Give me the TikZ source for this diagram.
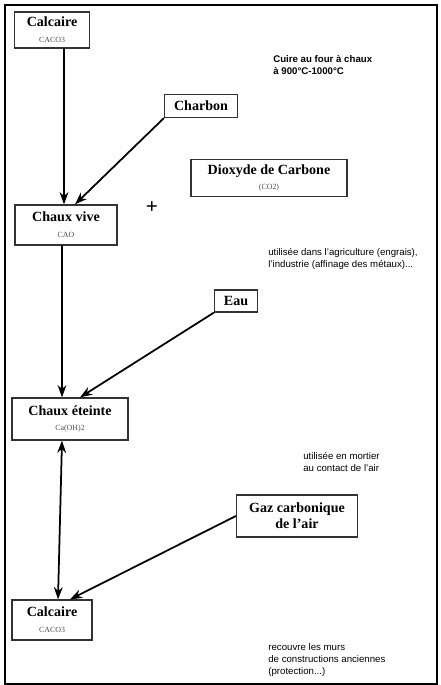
\documentclass[tikz,border=0pt]{standalone}
\usepackage{fontspec}
\setmainfont{Liberation Serif}
\setsansfont{Liberation Sans}
\usetikzlibrary{arrows.meta}

\newcommand{\formule}[1]{{\mdseries\fontsize{4.5}{5}\selectfont\color{black!70}#1}}

\begin{document}
\begin{tikzpicture}[x=0.02cm, y=-0.02cm,
		boite/.style={draw=black!80, line width=0.7pt, align=center, inner sep=2pt,
			font=\fontsize{8}{9}\selectfont\bfseries},
		fleche/.style={-{Stealth[length=7pt,width=5pt]}, line width=1pt},
		note/.style={anchor=north west, align=left, inner sep=0pt,
			font=\sffamily\fontsize{5.5}{7}\selectfont}]

	\useasboundingbox (0,0) rectangle (440,685);
	\draw[line width=1.2pt] (5,5) rectangle (437,684);

	% les boites
	\node[boite, minimum width=1.5cm, minimum height=0.72cm] (calc1) at (52,30)
		{Calcaire\\\formule{CACO3}};
	\node[boite, minimum width=1.46cm, minimum height=0.46cm] (charbon) at (201,106)
		{Charbon};
	\node[boite, minimum width=3.12cm, minimum height=0.74cm] (co2) at (269,178)
		{Dioxyde de Carbone\\\formule{(CO2)}};
	\node[font=\bfseries\large] (plus) at (152,208) {+};
	\node[boite, minimum width=2.04cm, minimum height=0.8cm] (vive) at (66,225)
		{Chaux vive\\\formule{CAO}};
	\node[boite, minimum width=0.86cm, minimum height=0.44cm] (eau) at (236,301)
		{Eau};
	\node[boite, minimum width=2.32cm, minimum height=0.84cm] (eteinte) at (70,419)
		{Chaux éteinte\\\formule{Ca(OH)2}};
	\node[boite, minimum width=2.42cm, minimum height=0.84cm] (gaz) at (297,516)
		{Gaz carbonique\\de l'air};
	\node[boite, minimum width=1.6cm, minimum height=0.8cm] (calc2) at (52,620)
		{Calcaire\\\formule{CACO3}};

	% les notes
	\node[note, font=\sffamily\bfseries\fontsize{5.5}{7}\selectfont] (cuisson) at (273,55)
		{Cuire au four à chaux\\à 900°C-1000°C};
	\node[note] (usage1) at (268,248)
		{utilisée dans l'agriculture (engrais),\\l'industrie (affinage des métaux)...};
	\node[note] (usage2) at (303,452)
		{utilisée en mortier\\au contact de l'air};
	\node[note] (usage3) at (268,643)
		{recouvre les murs\\de constructions anciennes\\(protection...)};

	% les fleches
	\draw[fleche] ([xshift=0.24cm]calc1.south) -- ([xshift=-0.04cm]vive.north);
	\draw[fleche] (charbon.south west) -- ([xshift=0.18cm]vive.north);
	\draw[fleche] ([xshift=-0.08cm]vive.south) -- ([xshift=-0.16cm]eteinte.north);
	\draw[fleche] (eau.south west) -- ([xshift=0.2cm]eteinte.north);
	\draw[fleche, {Stealth[length=7pt,width=5pt]}-{Stealth[length=7pt,width=5pt]}]
		([xshift=-0.16cm]eteinte.south) -- ([xshift=0.12cm]calc2.north);
	\draw[fleche] (gaz.west) -- ([xshift=0.36cm]calc2.north);
\end{tikzpicture}
\end{document}
